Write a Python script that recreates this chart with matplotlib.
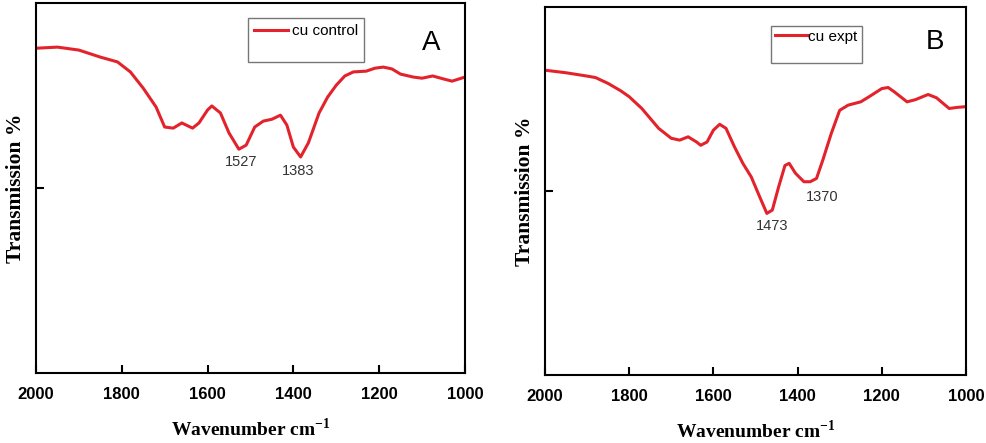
import matplotlib
matplotlib.use("Agg")
import matplotlib.pyplot as plt
from matplotlib.lines import Line2D

# FTIR spectra (transmission in arbitrary %, 0..100 axis)
wn_a = [2000, 1950, 1900, 1850, 1810, 1780, 1750, 1720, 1700, 1680, 1660, 1635,
        1620, 1600, 1590, 1570, 1550, 1527, 1510, 1490, 1470, 1450, 1430, 1415,
        1400, 1383, 1365, 1340, 1320, 1300, 1280, 1260, 1230, 1210, 1190, 1170,
        1150, 1120, 1100, 1075, 1050, 1030, 1000]
tr_a = [87.8, 88.1, 87.3, 85.4, 84.1, 81.4, 77.0, 71.9, 66.5, 66.2, 67.6, 66.2,
        67.6, 71.1, 72.2, 70.3, 64.9, 60.5, 61.6, 66.5, 68.1, 68.6, 69.7, 67.0,
        61.1, 58.4, 62.2, 70.3, 74.6, 77.8, 80.3, 81.4, 81.6, 82.4, 82.7, 82.2,
        80.8, 80.0, 79.7, 80.3, 79.5, 78.9, 80.0]

wn_b = [2000, 1950, 1900, 1880, 1850, 1820, 1800, 1770, 1750, 1730, 1700, 1680,
        1660, 1640, 1630, 1615, 1600, 1585, 1570, 1550, 1530, 1510, 1490, 1473,
        1460, 1445, 1430, 1420, 1405, 1385, 1370, 1355, 1340, 1320, 1300, 1280,
        1250, 1230, 1200, 1185, 1170, 1140, 1120, 1090, 1070, 1040, 1020, 1000]
tr_b = [82.8, 82.1, 81.2, 80.8, 79.2, 77.2, 75.6, 72.4, 69.7, 67.0, 64.3, 63.8,
        64.7, 63.3, 62.4, 63.3, 66.5, 68.1, 67.0, 62.0, 57.5, 53.8, 48.4, 43.9,
        44.8, 51.1, 56.9, 57.5, 54.8, 52.5, 52.5, 53.4, 58.4, 65.6, 71.9, 73.3,
        74.2, 75.6, 77.8, 78.1, 76.9, 74.2, 74.8, 76.2, 75.3, 72.4, 72.7, 72.9]

peaks_a = ["1527", "1383"]
peak_pos_a = [(1522, 57.0), (1389, 54.6)]
peaks_b = ["1473", "1370"]
peak_pos_b = [(1461, 40.5), (1342, 48.4)]

plt.rcParams['mathtext.fontset'] = 'custom'
plt.rcParams['mathtext.bf'] = 'Liberation Serif:bold'
plt.rcParams['mathtext.rm'] = 'Liberation Serif:bold'

red = '#e3232b'
f = plt.figure(figsize=(9.86, 4.43), dpi=100)
ax1 = f.add_axes([0.0365, 0.158, 0.435, 0.835])
ax2 = f.add_axes([0.5527, 0.1535, 0.427, 0.831])

# legend layout per panel: anchor, borderpad, handletextpad, labelspacing
panels = [(ax1, wn_a, tr_a, 'cu control', peaks_a, peak_pos_a, 'A', (0.921, 0.892),
           (0.494, 0.959), 0.4, 0.3, 0.2),
          (ax2, wn_b, tr_b, 'cu expt', peaks_b, peak_pos_b, 'B', (0.926, 0.905),
           (0.537, 0.948), 0.25, 0.0, 0.1)]

for a, wn, tr, lab, pk, pkpos, letter, lpos, legpos, bpad, htp, lsp in panels:
    ln, = a.plot(wn, tr, color=red, lw=2.2, label=lab, solid_joinstyle='round')
    a.set_xlim(2000, 1000)
    a.set_ylim(0, 100)
    a.set_xticks([2000, 1800, 1600, 1400, 1200, 1000])
    a.set_yticks([50])
    a.set_yticklabels([])
    a.tick_params(direction='in', length=6, width=1.5)
    a.tick_params(axis='x', pad=10, labelsize=12)
    for t in a.get_xticklabels():
        t.set_fontweight('bold')
        t.set_family('Liberation Sans')
    for s in ['top', 'bottom', 'left', 'right']:
        a.spines[s].set_linewidth(1.5)
    for txt, (x, y) in zip(pk, pkpos):
        a.text(x, y, txt, ha='center', va='center', fontsize=10.5,
               color='#333333', family='Liberation Sans')
    a.text(lpos[0], lpos[1], letter, transform=a.transAxes, ha='center',
           va='center', fontsize=20, family='Liberation Sans')
    leg = a.legend(handles=[ln, Line2D([], [], alpha=0)], labels=[lab, ' '],
                   loc='upper left', bbox_to_anchor=legpos, borderaxespad=0,
                   frameon=True, fancybox=False, edgecolor='#555555',
                   handlelength=2.2, handletextpad=htp, borderpad=bpad,
                   labelspacing=lsp, prop={'family': 'Liberation Sans', 'size': 11})
    leg.get_frame().set_linewidth(1.0)
    a.set_xlabel('Wavenumber cm$^{\\mathbf{-1}}$', family='Liberation Serif',
                 fontweight='bold', fontsize=14, labelpad=11)
    a.set_ylabel('Transmission %', family='Liberation Serif',
                 fontweight='bold', fontsize=15.5, labelpad=4)

f.savefig('out.png', dpi=100)
